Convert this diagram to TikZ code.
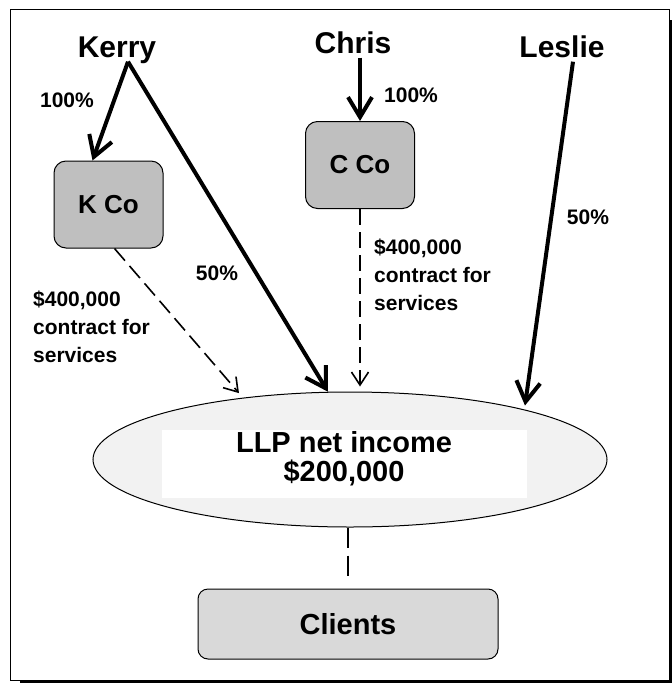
\documentclass[tikz,border=0pt]{standalone}
\usepackage{fontspec}
\setmainfont{Liberation Sans}
\usetikzlibrary{arrows.meta,shapes.geometric}

\tikzset{
  owner/.style={font=\fontsize{30}{36}\selectfont\bfseries, inner sep=2pt, text depth=0.25em, anchor=base},
  note/.style={font=\fontsize{21}{28}\selectfont\bfseries, inner sep=0pt},
  firm/.style={draw, line width=1pt, rounded corners=12pt, fill=gray!50,
    minimum width=109pt, minimum height=87pt, font=\fontsize{26}{28}\selectfont\bfseries},
  share/.style={line width=4pt, -{Straight Barb[length=20pt,width=24pt]}},
  fee/.style={line width=1.6pt, dash pattern=on 16pt off 7pt, -{Straight Barb[length=13pt,width=17pt]}},
}

\begin{document}
\begin{tikzpicture}[x=1pt,y=-1pt]
      \useasboundingbox (0,0) rectangle (672,683);
      \fill (20,20) rectangle (672,683);
      \draw[fill=white, line width=1pt] (10,9) rectangle (669,680);
      \node[owner] (kerry) at (117,57) {Kerry};
      \node[owner] (chris) at (353,53) {Chris};
      \node[owner] (leslie) at (562,57) {Leslie};
      \node[firm] (kco) at (108.5,204.5) {K Co};
      \node[firm] (cco) at (360,165) {C Co};
      \node[ellipse, draw, line width=1pt, fill=gray!10, minimum width=514pt, minimum height=135pt] (llp) at (350,459.5) {};
      \node[fill=white, minimum width=365pt, minimum height=68pt] (llpbox) at (344.5,464) {};
      \node[font=\fontsize{29}{29}\selectfont\bfseries, align=center, inner sep=0pt] (llptext) at (344,459) {LLP net income\\\$200,000};
      \node[firm, fill=gray!30, rounded corners=10pt, minimum width=300pt, minimum height=70pt,
        font=\fontsize{29}{32}\selectfont\bfseries] (clients) at (348,624) {Clients};
      \node[note] (kpct) at (67,100) {100\%};
      \node[note] (khalf) at (217,273) {50\%};
      \node[note, align=left, anchor=north west] (kfee) at (33,291) {\$400,000\\contract for\\services};
      \node[note] (cpct) at (411,95) {100\%};
      \node[note, align=left, anchor=north west] (cfee) at (374,239) {\$400,000\\contract for\\services};
      \node[note] (lhalf) at (588,217) {50\%};
      \begin{scope}[share]
        \draw ([xshift=11pt]kerry.south) to ([xshift=-16pt]kco.north);
        \draw ([xshift=11pt]kerry.south) to (llp.108);
        \draw ([xshift=7pt]chris.south) to (cco.north);
        \draw[shorten >=4pt] ([xshift=11pt]leslie.south) to (llp.16);
      \end{scope}
      \begin{scope}[fee]
        \draw[shorten >=6pt] ([xshift=6pt]kco.south) to (llp.150);
        \draw[shorten >=5pt] (cco.south) to (cco.south |- llp.north);
      \end{scope}
      \draw[line width=2pt, dash pattern=on 20pt off 8pt] (clients.north |- llp.south) to ([yshift=11pt]clients.north);
    \end{tikzpicture}
\end{document}
